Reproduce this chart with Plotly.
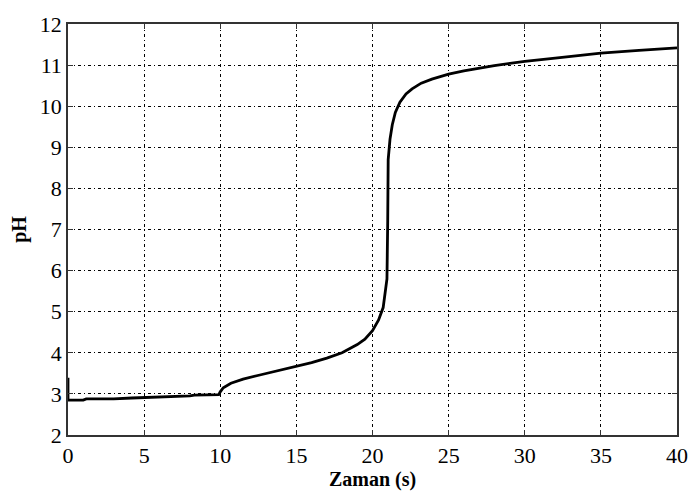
import plotly.graph_objects as go

t = [0, 0, 0.05, 1, 1.2, 3, 4.2, 6, 6.4, 8, 8.3, 9.9, 10.0, 10.2, 10.7, 11.5, 12.6, 14, 15, 16,
     17, 18, 19, 19.5, 20, 20.4, 20.7, 20.95, 21.0, 21.03, 21.15, 21.3, 21.5, 21.8, 22.2, 22.6,
     23.2, 23.9, 25, 26, 28, 30, 32, 35, 37.5, 40]
pH = [3.39, 2.85, 2.85, 2.85, 2.88, 2.88, 2.9, 2.92, 2.94, 2.95, 2.97, 2.98, 3.05, 3.15, 3.26,
      3.36, 3.46, 3.58, 3.66, 3.76, 3.87, 4.0, 4.2, 4.33, 4.54, 4.8, 5.1, 5.8, 7.2, 8.7, 9.2,
      9.55, 9.85, 10.1, 10.3, 10.42, 10.56, 10.66, 10.78, 10.86, 10.99, 11.09, 11.17, 11.29,
      11.36, 11.42]

x_ticks = [0, 5, 10, 15, 20, 25, 30, 35, 40]
y_ticks = [2, 3, 4, 5, 6, 7, 8, 9, 10, 11, 12]

fam = "Liberation Serif, Times New Roman, serif"
font = dict(family=fam, size=22, color="black")
common = dict(showline=True, linecolor="#333", linewidth=1.5, mirror="ticks",
              ticks="inside", ticklen=5, tickcolor="#333", tickwidth=1,
              showgrid=True, gridcolor="black", gridwidth=1,
              griddash="3px,3px,1px,3px", zeroline=False, tickfont=font)

fig = go.Figure()
fig.add_trace(go.Scatter(x=t, y=pH, mode="lines",
                         line=dict(color="black", width=2.8), showlegend=False))

fig.update_layout(
    width=700, height=497,
    margin=dict(l=68, r=14, t=13, b=59),
    paper_bgcolor="white", plot_bgcolor="white",
    font=dict(family=fam),
    xaxis=dict(range=[0, 40], tickvals=x_ticks,
               title=dict(text="<b>Zaman (s)</b>", font=dict(family=fam, size=20, color="black"), standoff=3),
               **common),
    yaxis=dict(range=[2, 12], tickvals=y_ticks,
               title=dict(text="<b>pH</b>", font=dict(family=fam, size=20, color="black"), standoff=8),
               **common),
)

fig.write_html("out.html")
